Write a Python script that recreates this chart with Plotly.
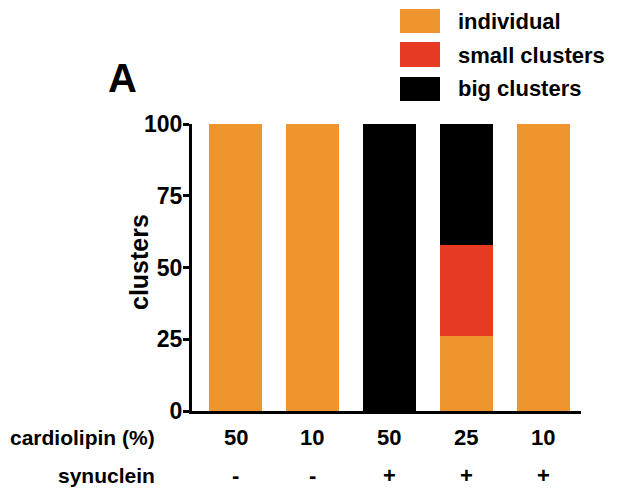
import plotly.graph_objects as go

cardiolipin = ["50", "10", "50", "25", "10"]
synuclein = ["-", "-", "+", "+", "+"]
individual = [100, 100, 0, 26, 100]
small_clusters = [0, 0, 0, 32, 0]
big_clusters = [0, 0, 100, 42, 0]
series_names = ["individual", "small clusters", "big clusters"]
colors = ["#EF952E", "#E63A23", "#000000"]
y_ticks = [0, 25, 50, 75, 100]

x = list(range(len(cardiolipin)))
FONT = "Liberation Sans, Arial, sans-serif"
H_PLOT = 490 - 124 - 79
W_PLOT = 620 - 192 - 39


def px_x(p):
    return (p - 192) / W_PLOT


def px_y(p):
    return (490 - p - 79) / H_PLOT


fig = go.Figure()
for name, vals, col in zip(series_names, [individual, small_clusters, big_clusters], colors):
    fig.add_trace(go.Bar(x=x, y=vals, name=name, marker=dict(color=col, line=dict(width=0)),
                         width=0.69, showlegend=False))

fig.update_layout(
    barmode="stack",
    width=620, height=490,
    margin=dict(l=192, r=39, t=124, b=79),
    plot_bgcolor="white", paper_bgcolor="white",
    font=dict(family=FONT, color="black"),
    xaxis=dict(range=[-0.566, 4.494], showticklabels=False, ticks="", showgrid=False,
               zeroline=False, showline=True, linecolor="black", linewidth=3),
    yaxis=dict(range=[0, 100], tickvals=y_ticks, ticks="outside", ticklen=6, tickwidth=2.5,
               tickcolor="black", showgrid=False, zeroline=False, showline=True,
               linecolor="black", linewidth=3, ticklabelstandoff=-4,
               tickfont=dict(size=23, family=FONT, color="black", weight="bold")),
)

# y-axis title
fig.add_annotation(text="<b>clusters</b>", xref="paper", yref="paper",
                   x=px_x(139), y=px_y(262), xanchor="center", yanchor="middle",
                   textangle=-90, showarrow=False, font=dict(size=25, family=FONT))

# row labels under the axis
rows = [("cardiolipin (%)", cardiolipin, 438), ("synuclein", synuclein, 475)]
for title, labels, ypx in rows:
    yp = px_y(ypx)
    fig.add_annotation(text=f"<b>{title}</b>", xref="paper", yref="paper",
                       x=px_x(157), y=yp, xanchor="right", yanchor="middle",
                       showarrow=False, font=dict(size=21, family=FONT))
    for xi, lab in zip(x, labels):
        fig.add_annotation(text=f"<b>{lab}</b>", xref="x", yref="paper", x=xi, y=yp,
                           xanchor="center", yanchor="middle", showarrow=False,
                           font=dict(size=22, family=FONT))

# panel letter
fig.add_annotation(text="<b>A</b>", xref="paper", yref="paper",
                   x=px_x(122), y=px_y(78), xanchor="center",
                   yanchor="middle", showarrow=False, font=dict(size=40, family=FONT))

# legend (manual, large swatches)
legend_rows = [(9, 33, 21), (42, 67, 55), (77, 101, 89)]
for (y0, y1, yc), name, col in zip(legend_rows, series_names, colors):
    fig.add_shape(type="rect", xref="paper", yref="paper",
                  x0=px_x(400), x1=px_x(440), y0=px_y(y1), y1=px_y(y0),
                  fillcolor=col, line=dict(width=0))
    fig.add_annotation(text=f"<b>{name}</b>", xref="paper", yref="paper",
                       x=px_x(456), y=px_y(yc), xanchor="left", yanchor="middle",
                       showarrow=False, font=dict(size=22, family=FONT))

fig.write_html("out.html")
